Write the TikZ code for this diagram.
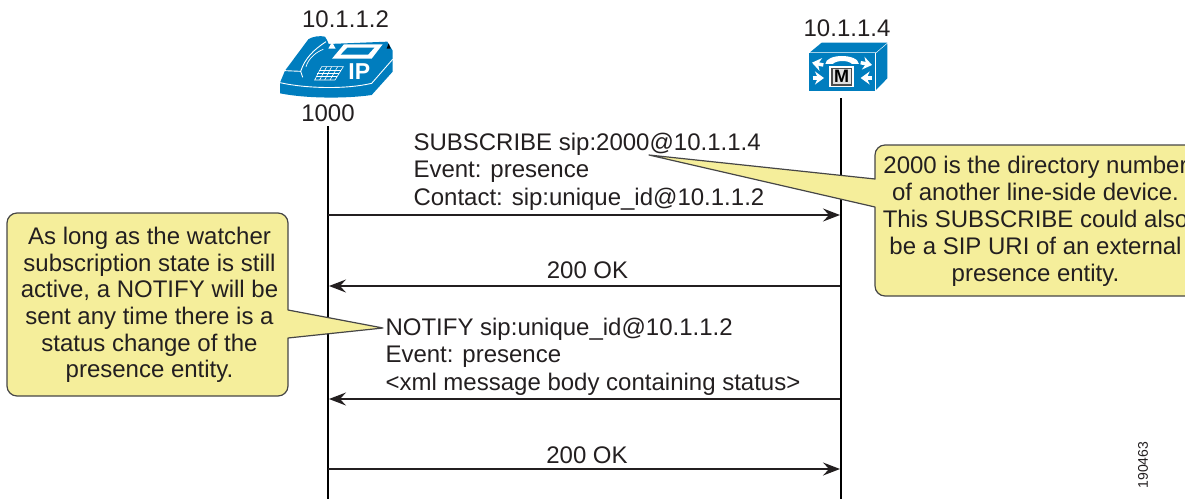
\documentclass[tikz,border=0pt]{standalone}
\usepackage{fontspec}
\setmainfont{Liberation Sans}
\usetikzlibrary{calc}
\usetikzlibrary{graphs}
\usetikzlibrary{positioning}
\usetikzlibrary{arrows.meta}

\definecolor{ciscoblue}{RGB}{0,125,190}
\definecolor{noteyellow}{RGB}{245,238,155}
\definecolor{notegray}{RGB}{70,70,70}
\definecolor{inktext}{RGB}{35,31,32}

\tikzset{
    plain/.style={inner sep=0pt, outer sep=0pt, text=inktext, font=\fontsize{24}{27}\selectfont},
    message/.style={plain, align=left, anchor=south west, font=\fontsize{24}{27.4}\selectfont},
    notetext/.style={plain, align=center},
    note/.style={draw=notegray, fill=noteyellow, line width=1.2pt, line join=round},
    lifeline/.style={draw=black, line width=2.6pt},
    icon/.style={x=0.3333pt, y=-0.3333pt},
    iconarrow/.style={white, line width=3.5pt, -{Stealth[length=9pt,width=13pt]}},
}

\begin{document}
\begin{tikzpicture}[x=1pt, y=-1pt]
        \useasboundingbox (0,0) rectangle (1185,499);

        % addresses and lifelines
        \node[plain] (phone addr) at (345.5,19) {10.1.1.2};
        \node[plain] (phone ext) at (328,113) {1000};
        \node[plain] (manager addr) at (847,28) {10.1.1.4};
        \coordinate (phone top) at (328,126);
        \coordinate (phone end) at (328,499);
        \coordinate (manager top) at (841,98);
        \coordinate (manager end) at (841,499);
        \draw[lifeline] (phone top) -- (phone end);
        \draw[lifeline] (manager top) -- (manager end);

        % ip phone
        \begin{scope}[shift={(270,0)}, icon]
            \fill[ciscoblue] (30,248) -- (45,212) -- (115,118) .. controls (125,110) and (150,106) .. (165,110) -- (172,122) -- (176,132) -- (352,125) -- (368,152) -- (368,215) -- (305,285) .. controls (230,296) and (110,296) .. (30,280) -- cycle;
            \draw[white, line width=0.9pt] (30,248) .. controls (110,266) and (230,268) .. (305,250) -- (368,178);
            \draw[white, line width=0.9pt] (45,212) -- (92,214) -- (98,232);
            \draw[white, line width=0.9pt] (92,214) .. controls (105,175) and (130,150) .. (168,125);
            \draw[white, line width=0.7pt] (108,200) .. controls (115,175) and (140,155) .. (160,148);
            \fill[white] (175,146) -- (197,146) -- (186,126) -- cycle;
            \fill[black] (350,146) -- (362,146) -- (356,130) -- cycle;
            \fill[white] (186,176) -- (222,133) -- (338,133) -- (305,176) -- cycle;
            \fill[ciscoblue] (212,164) -- (232,143) -- (313,143) -- (294,164) -- cycle;
            \draw[white, line width=0.6pt] (155,200) -- (220,200) -- (195,240) -- (134,240) -- cycle;
            \draw[white, line width=0.6pt] (147,210) -- (213,210) (141,220) -- (207,220) (137,230) -- (201,230);
            \draw[white, line width=0.6pt] (170,200) -- (149,240) (185,200) -- (164,240) (203,200) -- (180,240);
            \node[plain, text=white, font=\fontsize{23}{23}\selectfont\bfseries] (phone mark) at (268,214) {IP};
        \end{scope}

        % call manager
        \begin{scope}[shift={(790,10)}, icon]
            \fill[ciscoblue] (58,130) rectangle (255,242);
            \fill[ciscoblue] (60,127) -- (95,98) -- (292,98) -- (258,127) -- cycle;
            \fill[ciscoblue] (258,130) -- (292,101) -- (292,205) -- (258,240) -- cycle;
            \fill[white] (118,168) rectangle (192,232);
            \fill[black!70] (124,173) rectangle (186,227);
            \fill[black!12] (128,177) rectangle (182,223);
            \node[plain, text=black, font=\fontsize{18}{18}\selectfont\bfseries] (manager mark) at (155,200) {M};
            \fill[white] (106,162) .. controls (108,130) and (203,130) .. (207,162) -- (186,162) .. controls (175,150) and (140,150) .. (128,162) -- cycle;
            \draw[iconarrow] (100,165) -- (66,158);
            \draw[iconarrow] (68,204) -- (102,204);
            \draw[iconarrow] (212,158) -- (246,165);
            \draw[iconarrow] (246,204) -- (212,204);
        \end{scope}

        % messages
        \coordinate (sub a) at (328,215);
        \coordinate (sub b) at (840,215);
        \coordinate (ok1 a) at (840,286);
        \coordinate (ok1 b) at (329,286);
        \coordinate (not a) at (840,399);
        \coordinate (not b) at (329,399);
        \coordinate (ok2 a) at (328,469);
        \coordinate (ok2 b) at (840,469);
        \path (ok1 a) -- (ok1 b) coordinate[midway] (ok1 mid);
        \path (ok2 a) -- (ok2 b) coordinate[midway] (ok2 mid);

        \graph { [edges={draw=inktext, line width=1.3pt, arrows={-{Stealth[length=17pt,width=13pt,inset=6pt]}}}]
            (sub a) -> (sub b),
            (ok1 a) -> (ok1 b),
            (not a) -> (not b),
            (ok2 a) -> (ok2 b),
        };

        \node[message] (sub text) at (413.5,210) {SUBSCRIBE sip:2000@10.1.1.4\\Event: presence\\Contact: sip:unique\_id@10.1.1.2};
        \node[plain, above=7pt of ok1 mid, xshift=3pt] (ok1 text) {200 OK};
        \node[message] (not text) at (385.5,395) {NOTIFY sip:unique\_id@10.1.1.2\\Event: presence\\<xml message body containing status>};
        \node[plain, above=5pt of ok2 mid, xshift=3pt] (ok2 text) {200 OK};

        % notes
        \coordinate (left tip) at (383,328);
        \coordinate (right tip) at (649,155);
        \draw[note, rounded corners=10pt] (7,213) -- (288,213) [sharp corners] -- (288,310) -- (left tip) -- (288,338) [rounded corners=10pt] -- (288,396) -- (7,396) -- cycle;
        \draw[note, rounded corners=10pt] (1250,145) -- (875,145) [sharp corners] -- (875,179) -- (right tip) -- (875,207) [rounded corners=10pt] -- (875,296) -- (1250,296) -- cycle;
        \node[notetext, font=\fontsize{24}{26.7}\selectfont] (left note) at (149.5,305) {As long as the watcher\\subscription state is still\\active, a NOTIFY will be\\sent any time there is a\\status change of the\\presence entity.};
        \node[notetext] (right note) at (1035.5,221) {2000 is the directory number\\of another line-side device.\\This SUBSCRIBE could also\\be a SIP URI of an external\\presence entity.};

        \node[plain, rotate=90, font=\fontsize{14}{14}\selectfont] (figure id) at (1143,465) {190463};
\end{tikzpicture}
\end{document}
